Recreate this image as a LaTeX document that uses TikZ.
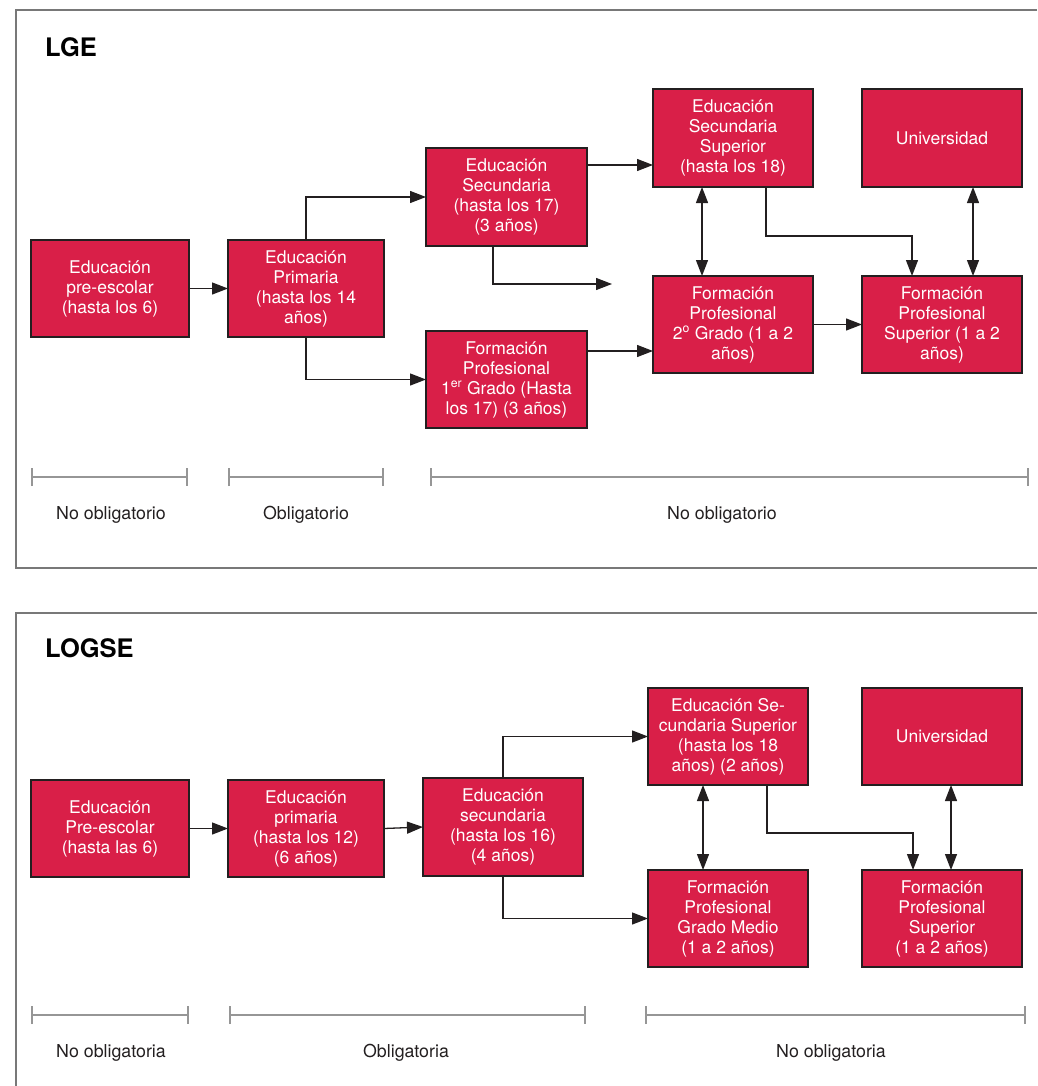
\documentclass[tikz,border=0pt]{standalone}
\usepackage{fontspec}
\setmainfont{TeX Gyre Heros}
\usetikzlibrary{arrows.meta,calc}
\definecolor{boxred}{RGB}{217,31,72}
\definecolor{lineDark}{RGB}{35,31,32}
\definecolor{tlgray}{RGB}{150,150,150}
\definecolor{framegray}{RGB}{120,120,120}
\tikzset{
  box/.style={draw=lineDark, line width=1.2pt, fill=boxred, text=white,
    align=center, inner sep=0pt, outer sep=0pt,
    font=\fontsize{17.5}{20}\selectfont},
  arr/.style={draw=lineDark, line width=1.3pt, -{Triangle[length=16pt,width=12pt]}},
  darr/.style={draw=lineDark, line width=1.3pt, {Triangle[length=16pt,width=12pt]}-{Triangle[length=16pt,width=12pt]}},
  tline/.style={draw=tlgray, line width=1.8pt, {Bar[width=18pt,line width=1.6pt]}-{Bar[width=18pt,line width=1.6pt]}},
  tlabel/.style={text=lineDark, inner sep=0pt, font=\fontsize{17.8}{20}\selectfont},
  frame/.style={draw=framegray, line width=1.4pt},
  title/.style={anchor=base west, inner sep=0pt, text=black, font=\fontsize{25.5}{30}\selectfont\bfseries}
}
\begin{document}
\begin{tikzpicture}[x=1pt,y=-1pt]
\useasboundingbox (0,0) rectangle (1037,1086);
% frames
\draw[frame] (1037,10) -- (16,10) -- (16,568) -- (1037,568);
\draw[frame] (1037,613) -- (16,613) -- (16,1086);
% titles
\node[title] (t1) at (45,57) {LGE};
\node[title] (t2) at (45,657) {LOGSE};

% ---------- LGE ----------
\node[box, minimum width=158pt, minimum height=97pt] (A) at (110,288.5) {Educación\\pre-escolar\\(hasta los 6)};
\node[box, minimum width=156pt, minimum height=97pt] (B) at (306,288.5) {Educación\\Primaria\\(hasta los 14\\años)};
\node[box, minimum width=161pt, minimum height=98pt] (C) at (506.5,197) {Educación\\Secundaria\\(hasta los 17)\\(3 años)};
\node[box, minimum width=161pt, minimum height=97pt] (D) at (506.5,379.5) {Formación\\Profesional\\1\textsuperscript{er} Grado (Hasta\\los 17) (3 años)};
\node[box, minimum width=160pt, minimum height=98pt] (E) at (733,138) {Educación\\Secundaria\\Superior\\(hasta los 18)};
\node[box, minimum width=160pt, minimum height=97pt] (F) at (733,324.5) {Formación\\Profesional\\2\textsuperscript{o} Grado (1 a 2\\años)};
\node[box, minimum width=160pt, minimum height=98pt] (G) at (942,138) {Universidad};
\node[box, minimum width=160pt, minimum height=97pt] (H) at (942,324.5) {Formación\\Profesional\\Superior (1 a 2\\años)};
\coordinate (Cend) at (612,284);

\draw[arr] (A.east) -- (B.west);
\draw[arr] (B.north) |- (C.west);
\draw[arr] (B.south) |- (D.west);
\draw[arr] (C.east |- 0,165) -- (E.west |- 0,165);
\draw[arr] (C.south -| 493,0) |- (Cend);
\draw[arr] (D.east |- 0,351) -- (F.west |- 0,351);
\draw[darr] (E.south -| 702,0) -- (F.north -| 702,0);
\draw[arr] (E.south -| 766,0) |- (912,236) -- (H.north -| 912,0);
\draw[darr] (G.south -| 973,0) -- (H.north -| 973,0);
\draw[arr] (F.east) -- (H.west);

% timeline LGE
\draw[tline] (31,477) -- (188,477);
\draw[tline] (228,477) -- (384,477);
\draw[tline] (430,477) -- (1029,477);
\node[tlabel] (l1) at (111,515) {No obligatorio};
\node[tlabel] (l2) at (306,515) {Obligatorio};
\node[tlabel] (l3) at (722,515) {No obligatorio};

% ---------- LOGSE ----------
\node[box, minimum width=158pt, minimum height=97pt] (A2) at (110,828.5) {Educación\\Pre-escolar\\(hasta las 6)};
\node[box, minimum width=156pt, minimum height=97pt] (B2) at (306,828.5) {Educación\\primaria\\(hasta los 12)\\(6 años)};
\node[box, minimum width=160pt, minimum height=98pt] (C2) at (503,827) {Educación\\secundaria\\(hasta los 16)\\(4 años)};
\node[box, minimum width=160pt, minimum height=97pt] (E2) at (728,736.5) {Educación Se-\\cundaria Superior\\(hasta los 18\\años) (2 años)};
\node[box, minimum width=160pt, minimum height=97pt] (F2) at (728,918.5) {Formación\\Profesional\\Grado Medio\\(1 a 2 años)};
\node[box, minimum width=160pt, minimum height=97pt] (G2) at (942,736.5) {Universidad};
\node[box, minimum width=160pt, minimum height=97pt] (H2) at (942,918.5) {Formación\\Profesional\\Superior\\(1 a 2 años)};

\draw[arr] (A2.east) -- (B2.west);
\draw[arr] (B2.east) -- (C2.west);
\draw[arr] (C2.north) |- (E2.west);
\draw[arr] (C2.south) |- (F2.west);
\draw[darr] (E2.south -| 703,0) -- (F2.north -| 703,0);
\draw[arr] (E2.south -| 767,0) |- (913,833) -- (H2.north -| 913,0);
\draw[darr] (G2.south -| 951,0) -- (H2.north -| 951,0);

% timeline LOGSE
\draw[tline] (31,1015) -- (189,1015);
\draw[tline] (229,1015) -- (586,1015);
\draw[tline] (645,1015) -- (1026,1015);
\node[tlabel] (m1) at (111,1053) {No obligatoria};
\node[tlabel] (m2) at (406,1053) {Obligatoria};
\node[tlabel] (m3) at (831,1053) {No obligatoria};
\end{tikzpicture}
\end{document}
